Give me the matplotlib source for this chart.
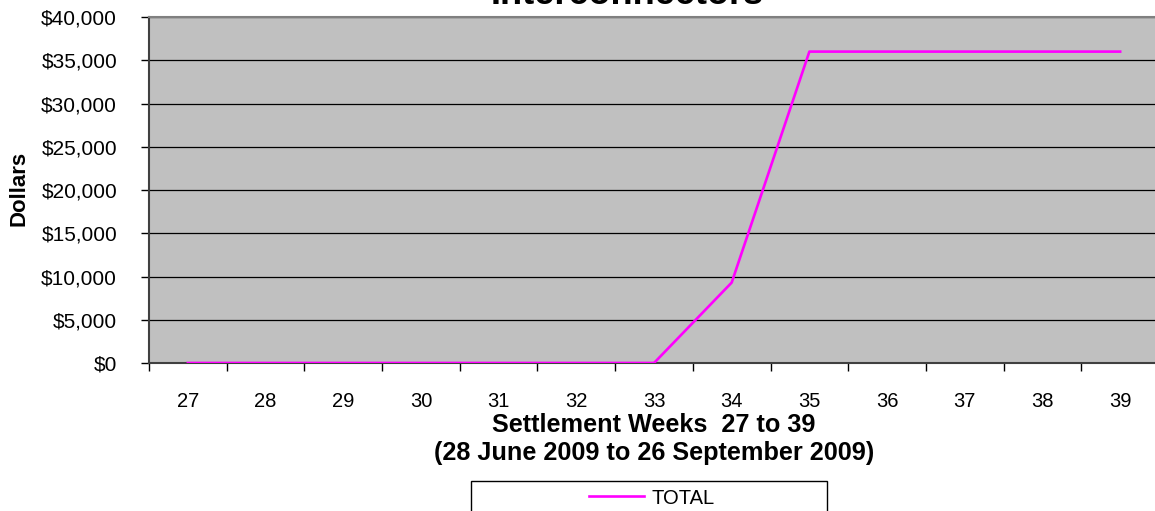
import matplotlib.pyplot as plt
from matplotlib.patches import Rectangle
from matplotlib.ticker import FuncFormatter, MultipleLocator

# weekly totals
weeks = ['27', '28', '29', '30', '31', '32', '33', '34', '35', '36', '37', '38', '39']
total = [0, 0, 0, 0, 0, 0, 0, 9300, 36000, 36000, 36000, 36000, 36000]

plt.rcParams['font.family'] = ['Liberation Sans', 'DejaVu Sans']

fig = plt.figure(figsize=(11.55, 5.11), dpi=100)
ax = fig.add_axes([149 / 1155, 1 - 363 / 511, 1010 / 1155, 346 / 511])
ax.set_facecolor('#C0C0C0')

x = list(range(len(weeks)))
ax.plot(x, total, color='#FF00FF', lw=1.9, label='TOTAL', zorder=3)

ax.set_xlim(-0.5, len(weeks) - 0.5)
ax.set_ylim(0, 40000)
ax.yaxis.set_major_locator(MultipleLocator(5000))
ax.yaxis.set_major_formatter(FuncFormatter(lambda v, p: '${:,.0f}'.format(v)))
ax.grid(axis='y', color='#000000', lw=0.9)
ax.set_axisbelow(True)

ax.set_xticks(x)
ax.set_xticklabels(weeks)
ax.set_xticks([i - 0.5 for i in range(len(weeks) + 1)], minor=True)
ax.tick_params(axis='x', which='major', length=0, pad=21, labelsize=14.5)
ax.tick_params(axis='x', which='minor', length=6, width=1, color='black')
ax.tick_params(axis='y', length=6, width=1, color='black', pad=17, labelsize=15)

for s in ax.spines.values():
    s.set_color('#808080')
    s.set_linewidth(1.5)
ax.spines['left'].set_color('#404040')
ax.spines['bottom'].set_color('#404040')

ax.set_xlabel('Settlement Weeks  27 to 39\n(28 June 2009 to 26 September 2009)',
              fontsize=18.2, fontweight='bold', labelpad=1, linespacing=1.25)
fig.text(18.5 / 1155, 1 - 188 / 511, 'Dollars', rotation=90, fontsize=16,
         fontweight='bold', ha='center', va='center')
fig.text(627 / 1155, 1 - 4 / 511, 'Interconnectors', fontsize=26,
         fontweight='bold', ha='center', va='baseline')

# legend box (runs off the bottom edge like the original)
fig.patches.append(Rectangle((471 / 1155, -0.05), 356 / 1155, 0.05 + 1 - 481 / 511,
                             transform=fig.transFigure, facecolor='white',
                             edgecolor='black', lw=1))
fig.legend(loc='center', bbox_to_anchor=(652 / 1155, 1 - 498 / 511),
           frameon=False, fontsize=14.5, handlelength=2.7, handletextpad=0.4)

fig.savefig('out.png', dpi=100)
